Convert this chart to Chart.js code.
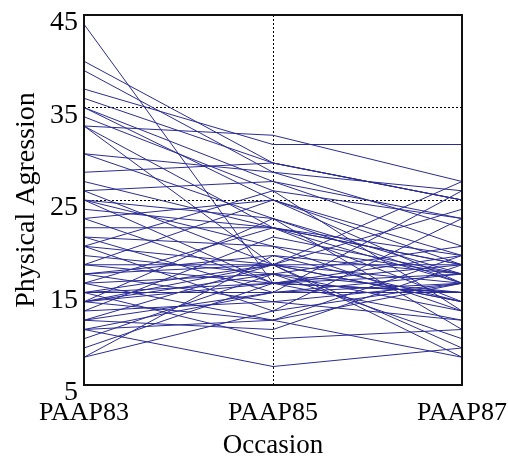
<!DOCTYPE html>
<html>
<head>
<meta charset="utf-8">
<script src="https://cdn.jsdelivr.net/npm/chart.js@4"></script>
<style>
  html, body { margin: 0; padding: 0; background: #fff; overflow: hidden; }
  canvas { display: block; }
</style>
</head>
<body>
<canvas id="chart" width="508" height="462"></canvas>
<script>
// occasions on the x axis
const occasions = ['PAAP83', 'PAAP85', 'PAAP87'];
// one entry per subject
const paap83 = [44, 40, 39, 37, 36, 35, 35, 34, 33, 33, 33, 30, 30, 28, 27, 26, 26, 25, 25, 25,
  23, 23, 22, 21, 21, 20, 20, 19, 18, 18, 17, 17, 17, 16, 16, 15, 15, 15, 15, 14,
  14, 14, 14, 13, 13, 12, 12, 11, 11, 11, 10, 9, 8, 8, 12, 16, 20, 24, 14, 18];
const paap85 = [16, 29, 28, 31, 29, 25, 27, 26, 32, 22, 18, 28, 23, 29, 22, 27, 18, 23, 20, 16,
  25, 16, 22, 20, 15, 18, 13, 17, 25, 18, 18, 19, 14, 22, 17, 18, 16, 10, 15, 17,
  16, 12, 18, 14, 21, 15, 18, 7, 15, 12, 17, 16, 13, 19, 11, 12, 26, 22, 23, 16];
const paap87 = [15, 25, 22, 31, 25, 19, 20, 23, 27, 16, 14, 26, 17, 25, 18, 23, 9, 16, 13, 15,
  18, 12, 19, 17, 15, 24, 16, 10, 16, 18, 14, 17, 16, 14, 13, 27, 19, 11, 16, 20,
  15, 8, 16, 12, 17, 17, 8, 9, 26, 16, 15, 18, 23, 14, 18, 19, 13, 18, 11, 17];
const yTicks = [5, 15, 25, 35, 45];

const lineColor = '#2b2b96';
const serif = '"Liberation Serif", "DejaVu Serif", serif';

const datasets = paap83.map((v, i) => ({
  data: [v, paap85[i], paap87[i]],
  borderColor: lineColor,
  borderWidth: 1,
  pointRadius: 0,
  fill: false,
  tension: 0
}));

// solid frame round the plot area
const framePlugin = {
  id: 'frame',
  afterDatasetsDraw(chart) {
    const { ctx, chartArea: a } = chart;
    ctx.save();
    ctx.strokeStyle = '#111';
    ctx.lineWidth = 2;
    ctx.strokeRect(a.left, a.top, a.right - a.left, a.bottom - a.top);
    ctx.restore();
  }
};

new Chart(document.getElementById('chart').getContext('2d'), {
  type: 'line',
  data: { labels: occasions, datasets: datasets },
  options: {
    responsive: false,
    animation: false,
    devicePixelRatio: 1,
    layout: { padding: { top: 15, right: 46, left: 0, bottom: 0 } },
    plugins: { legend: { display: false }, tooltip: { enabled: false } },
    scales: {
      x: {
        type: 'category',
        offset: false,
        border: { display: false, dash: [2, 2] },
        grid: { color: '#000', drawTicks: false, lineWidth: 1 },
        ticks: { color: '#000', font: { family: serif, size: 26 }, padding: 13, maxRotation: 0 },
        title: { display: true, text: 'Occasion', color: '#000', font: { family: serif, size: 27 }, padding: { top: 0, bottom: 0 } },
        afterFit(s) { s.height = 77; s.paddingLeft = 0; s.paddingRight = 0; }
      },
      y: {
        min: 5,
        max: 45,
        border: { display: false, dash: [2, 2] },
        afterBuildTicks(s) { s.ticks = yTicks.map(v => ({ value: v })); },
        grid: { color: '#000', drawTicks: false, lineWidth: 1 },
        ticks: { color: '#000', font: { family: serif, size: 28 }, padding: 6, labelOffset: 8 },
        title: { display: true, text: 'Physical Agression', color: '#000', font: { family: serif, size: 28 }, padding: { top: 10, bottom: 0 } },
        afterFit(s) { s.width = 84; s.paddingTop = 0; s.paddingBottom = 0; }
      }
    }
  },
  plugins: [framePlugin]
});
</script>
</body>
</html>
